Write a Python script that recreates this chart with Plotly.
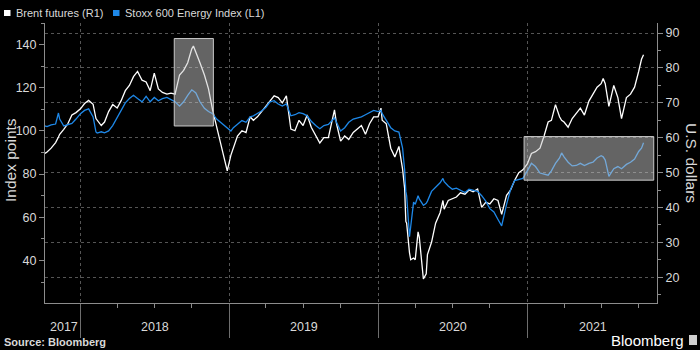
import plotly.graph_objects as go

# ---------------- data ----------------
dates = [
    "2017-10-06", "2017-10-11", "2017-10-21", "2017-11-01", "2017-11-08", "2017-11-11", "2017-11-21",
    "2017-12-01", "2017-12-11", "2017-12-21",
    "2018-01-01", "2018-01-11", "2018-01-21", "2018-02-01", "2018-02-08", "2018-02-11", "2018-02-21",
    "2018-03-01", "2018-03-11", "2018-03-21", "2018-04-01", "2018-04-11", "2018-04-21",
    "2018-05-01", "2018-05-11", "2018-05-21", "2018-06-01", "2018-06-11", "2018-06-21",
    "2018-07-01", "2018-07-11", "2018-07-21", "2018-08-01", "2018-08-11", "2018-08-21",
    "2018-09-01", "2018-09-11", "2018-09-21", "2018-10-01", "2018-10-05", "2018-10-11", "2018-10-21",
    "2018-11-01", "2018-11-11", "2018-11-21", "2018-12-01", "2018-12-11", "2018-12-21", "2018-12-27",
    "2019-01-05", "2019-01-11", "2019-01-21", "2019-02-01", "2019-02-11", "2019-02-21",
    "2019-03-01", "2019-03-11", "2019-03-21", "2019-04-01", "2019-04-11", "2019-04-21",
    "2019-05-01", "2019-05-11", "2019-05-21", "2019-06-01", "2019-06-11", "2019-06-21",
    "2019-07-01", "2019-07-11", "2019-07-21", "2019-08-01", "2019-08-11", "2019-08-21",
    "2019-09-01", "2019-09-16", "2019-09-21", "2019-10-01", "2019-10-11", "2019-10-21",
    "2019-11-01", "2019-11-11", "2019-11-21", "2019-12-01", "2019-12-11", "2019-12-21",
    "2020-01-01", "2020-01-08", "2020-01-11", "2020-01-21", "2020-02-01", "2020-02-11", "2020-02-21",
    "2020-03-01", "2020-03-06", "2020-03-09", "2020-03-11", "2020-03-18", "2020-03-21", "2020-03-28",
    "2020-04-01", "2020-04-08", "2020-04-11", "2020-04-21", "2020-04-28",
    "2020-05-01", "2020-05-11", "2020-05-21", "2020-06-01", "2020-06-08", "2020-06-11", "2020-06-21",
    "2020-07-01", "2020-07-11", "2020-07-21", "2020-08-01", "2020-08-11", "2020-08-21",
    "2020-09-01", "2020-09-11", "2020-09-21", "2020-10-01", "2020-10-11", "2020-10-21", "2020-10-30",
    "2020-11-11", "2020-11-21", "2020-12-01", "2020-12-11", "2020-12-21",
    "2021-01-01", "2021-01-11", "2021-01-21", "2021-02-01", "2021-02-11", "2021-02-21",
    "2021-03-01", "2021-03-11", "2021-03-21", "2021-03-26", "2021-04-01", "2021-04-11", "2021-04-21",
    "2021-05-01", "2021-05-11", "2021-05-21", "2021-06-01", "2021-06-11", "2021-06-21",
    "2021-07-01", "2021-07-06", "2021-07-11", "2021-07-20", "2021-08-01", "2021-08-11", "2021-08-20",
    "2021-09-01", "2021-09-11", "2021-09-21", "2021-10-01", "2021-10-08", "2021-10-13",
]

brent_usd = [
    55.5, 55.9, 57.0, 58.6, 60.2, 61.0, 62.4,
    64.0, 66.5, 67.2,
    68.3, 69.8, 70.7, 69.6, 65.5, 65.0, 63.5,
    64.5, 67.5, 69.5, 68.5, 70.7, 73.5,
    75.0, 77.5, 79.0, 76.5, 76.0, 73.5,
    78.5, 74.0, 73.0, 72.5, 72.8, 72.5,
    78.0, 79.3, 81.5, 85.5, 86.3, 84.3, 81.5,
    78.0, 74.0, 68.0, 63.0, 57.8, 53.0, 50.5,
    55.0, 57.0, 60.5, 62.0, 61.5, 66.0,
    65.0, 66.0, 67.5, 69.0, 70.5, 72.0,
    71.5, 70.0, 72.0, 62.5, 62.0, 65.0,
    63.5, 66.5, 63.0, 60.5, 58.5, 60.0,
    60.0, 68.0, 64.0, 59.0, 60.5, 59.5,
    61.5, 62.5, 63.5, 61.0, 64.0, 66.0,
    66.0, 68.5, 65.0, 64.0, 57.0, 54.5, 57.5,
    51.0, 45.5, 36.0, 35.5, 27.0, 25.0, 25.5,
    25.0, 33.0, 31.5, 19.5, 21.0,
    26.5, 30.0, 35.5, 38.5, 42.0, 39.5, 42.0,
    42.5, 43.0, 44.2, 43.8, 45.0, 44.5,
    45.3, 40.0, 41.5, 41.0, 42.5, 42.0, 38.0,
    43.5, 45.0, 47.8, 50.0, 50.8,
    52.5, 55.5, 56.0, 57.0, 60.5, 64.5,
    65.0, 69.5, 66.0, 65.0, 64.5, 63.0, 65.5,
    67.0, 68.5, 66.5, 70.5, 72.5, 74.5,
    75.5, 77.0, 75.5, 69.0, 75.0, 71.5, 65.5,
    71.5, 72.5, 74.5, 79.0, 82.5, 83.8,
]

stoxx_index = [
    102.3, 102.0, 102.8, 103.2, 108.3, 105.5, 102.3,
    102.8, 103.5, 105.5,
    108.0, 109.5, 110.2, 106.5, 99.5, 99.0, 99.6,
    99.1, 100.0, 102.5, 106.0, 109.2, 113.0,
    115.0, 116.5, 115.0, 113.5, 116.0, 113.5,
    115.5, 114.0, 115.0, 115.5, 114.5, 113.5,
    111.5, 113.5, 116.5, 119.0, 118.5, 117.6, 113.5,
    110.5, 109.0, 108.0, 105.5, 104.0, 102.5, 101.5,
    100.0, 101.5, 103.0, 104.8, 104.0, 106.5,
    107.0, 108.0, 109.2, 111.0, 113.5, 114.0,
    112.5, 111.5, 112.5, 107.0, 107.5, 108.5,
    108.0, 107.0, 104.5, 102.5, 101.0, 102.5,
    103.0, 106.0, 104.0, 100.0, 101.5, 104.0,
    105.5, 106.0, 106.5, 107.5, 108.5, 109.5,
    109.0, 109.5, 108.0, 105.0, 101.5, 100.0, 99.5,
    92.0, 82.0, 72.0, 70.0, 51.0, 56.0, 67.0,
    66.0, 70.0, 68.5, 65.5, 66.5,
    67.5, 72.0, 74.0, 76.0, 78.0, 76.5, 74.5,
    73.0, 73.5, 72.5, 71.5, 73.0, 72.5,
    72.0, 70.0, 67.5, 64.0, 62.5, 59.0, 56.0,
    66.0, 73.0, 77.0, 77.5, 78.0,
    81.5, 85.0, 83.5, 80.5, 80.0, 79.5,
    81.5, 85.0, 87.5, 89.8, 88.0, 85.5, 83.8,
    84.0, 85.0, 84.0, 85.0, 85.5, 87.5,
    88.5, 88.0, 86.5, 79.0, 82.5, 83.5, 82.5,
    84.5, 85.5, 87.0, 90.5, 92.0, 94.5,
]

series_names = ["Brent futures (R1)", "Stoxx 600 Energy Index (L1)"]
year_starts = ["2018-01-01", "2019-01-01", "2020-01-01", "2021-01-01"]
year_label_dates = ["2017-11-21", "2018-07-02", "2019-07-02", "2020-07-02", "2021-06-10"]
year_labels = ["2017", "2018", "2019", "2020", "2021"]
highlight_x = [["2018-08-19", "2018-11-23"], ["2020-12-24", "2021-11-07"]]
highlight_y = [[102.3, 142.8], [77.2, 97.4]]

# ---------------- layout helpers ----------------
W, H = 700, 350
ML, MR, MT, MB = 45, 43, 23, 47
PW, PH = W - ML - MR, H - MT - MB
FONT = "Liberation Sans, Arial, sans-serif"
WHITE = "#ffffff"
BLUE = "#1e88e8"
TXT = "#d9d9d9"


def px_x(p):
    return (p - ML) / PW


def px_y(p):
    return (H - MB - p) / PH


fig = go.Figure()
fig.add_trace(go.Scatter(x=dates, y=brent_usd, name=series_names[0], mode="lines",
                         line=dict(color=WHITE, width=1.3), yaxis="y"))
fig.add_trace(go.Scatter(x=dates, y=stoxx_index, name=series_names[1], mode="lines",
                         line=dict(color=BLUE, width=1.3), yaxis="y2"))

shapes = []
for (x0, x1), (y0, y1) in zip(highlight_x, highlight_y):
    shapes.append(dict(type="rect", xref="x", yref="y2", x0=x0, x1=x1, y0=y0, y1=y1,
                       fillcolor="rgba(200,200,200,0.5)", line=dict(color="#c8c8c8", width=1),
                       layer="above"))
# legend squares
shapes.append(dict(type="rect", xref="paper", yref="paper", x0=px_x(4), x1=px_x(10.5),
                   y0=px_y(16), y1=px_y(10), fillcolor=WHITE, line=dict(width=0)))
shapes.append(dict(type="rect", xref="paper", yref="paper", x0=px_x(113), x1=px_x(119.5),
                   y0=px_y(16), y1=px_y(10), fillcolor=BLUE, line=dict(width=0)))
# bloomberg icon
shapes.append(dict(type="rect", xref="paper", yref="paper", x0=px_x(689), x1=px_x(697),
                   y0=px_y(345), y1=px_y(335), fillcolor="#cfcfcf", line=dict(width=0)))

annotations = [
    dict(text=series_names[0], x=px_x(14), y=px_y(13), xanchor="left", yanchor="middle"),
    dict(text=series_names[1], x=px_x(122.5), y=px_y(13), xanchor="left", yanchor="middle"),
]
for a in annotations:
    a.update(xref="paper", yref="paper", showarrow=False, font=dict(family=FONT, size=11, color=TXT))

annotations.append(dict(text="Index points", xref="paper", yref="paper", x=px_x(10), y=px_y(160),
                        textangle=-90, showarrow=False, xanchor="center", yanchor="middle",
                        font=dict(family=FONT, size=15.5, color=TXT)))
annotations.append(dict(text="U.S. dollars", xref="paper", yref="paper", x=px_x(692), y=px_y(163),
                        textangle=90, showarrow=False, xanchor="center", yanchor="middle",
                        font=dict(family=FONT, size=15.5, color=TXT)))
for d, t in zip(year_label_dates, year_labels):
    annotations.append(dict(text=t, xref="x", yref="paper", x=d, y=px_y(327), showarrow=False,
                            xanchor="center", yanchor="middle",
                            font=dict(family=FONT, size=12.5, color=TXT)))
annotations.append(dict(text="<b>Source: Bloomberg</b>", xref="paper", yref="paper", x=px_x(2),
                        y=px_y(342), xanchor="left", yanchor="middle", showarrow=False,
                        font=dict(family=FONT, size=11, color=TXT)))
annotations.append(dict(text="Bloomberg", xref="paper", yref="paper", x=px_x(686),
                        y=px_y(340), xanchor="right", yanchor="middle", showarrow=False,
                        font=dict(family=FONT, size=15, color=WHITE)))

axis_font = dict(family=FONT, size=12.5, color=TXT)
fig.update_layout(
    width=W, height=H,
    margin=dict(l=ML, r=MR, t=MT, b=MB, pad=0),
    paper_bgcolor="#000000", plot_bgcolor="#000000",
    showlegend=False,
    shapes=shapes, annotations=annotations,
    xaxis=dict(type="date", range=["2017-10-06", "2021-11-15"],
               tickmode="array", tickvals=year_starts, showticklabels=False,
               ticks="outside", ticklen=34, tickcolor="#6e6e6e", tickwidth=1,
               showgrid=True, gridcolor="#555555", griddash="dot", gridwidth=1,
               showline=True, linecolor="#8c8c8c", linewidth=1, zeroline=False,
               minor=dict(ticks="outside", ticklen=4, tickcolor="#8c8c8c",
                          tickmode="linear", tick0="2018-01-01", dtick="M3", showgrid=False)),
    yaxis=dict(side="right", range=[12.6, 92.9], tickmode="linear", tick0=0, dtick=10,
               ticks="outside", ticklen=5, tickcolor="#8c8c8c", tickfont=axis_font,
               showgrid=True, gridcolor="#555555", griddash="dot", gridwidth=1,
               showline=True, linecolor="#8c8c8c", linewidth=1, zeroline=False,
               minor=dict(ticks="outside", ticklen=3, tickcolor="#8c8c8c", dtick=5, tick0=0)),
    yaxis2=dict(overlaying="y", side="left", range=[20.3, 150], tickmode="linear", tick0=0, dtick=20,
                ticks="outside", ticklen=5, tickcolor="#8c8c8c", tickfont=axis_font,
                showgrid=False, showline=True, linecolor="#8c8c8c", linewidth=1, zeroline=False,
                minor=dict(ticks="outside", ticklen=3, tickcolor="#8c8c8c", dtick=10, tick0=0)),
)

fig.write_html("out.html")
